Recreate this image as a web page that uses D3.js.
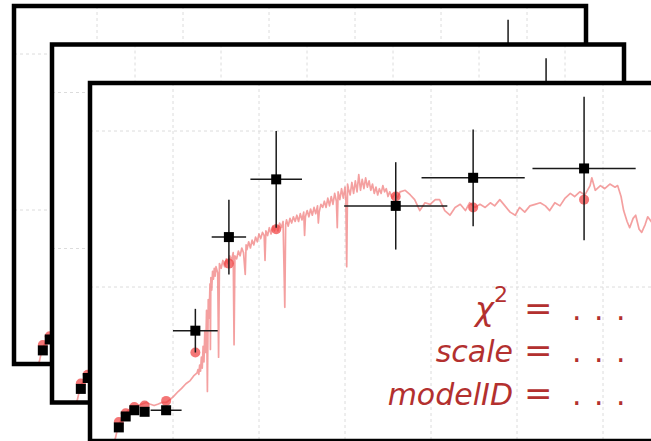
<!DOCTYPE html>
<html>
<head>
<meta charset="utf-8">
<script src="https://cdn.jsdelivr.net/npm/d3@7"></script>
<style>
  body { margin: 0; background: #fff; }
  svg { display: block; }
</style>
</head>
<body>
<div id="chart"></div>
<script>
// model spectrum (arbitrary units, grid at integers)
var specX = [0.30,0.33,0.35,0.37,0.41,0.45,0.50,0.55,0.59,0.64,0.69,0.73,0.78,0.83,0.87,0.92,0.97,1.01,1.06,1.10,
  1.15,1.20,1.24,1.28,1.29,1.30,1.31,1.32,1.33,1.34,1.35,1.36,1.37,1.38,1.39,1.40,1.41,1.42,1.43,1.435,
  1.44,1.45,1.46,1.47,1.48,1.49,1.50,1.52,1.53,1.54,1.56,1.58,1.60,1.62,1.64,1.66,1.68,1.70,1.71,1.72,
  1.74,1.76,1.78,1.80,1.82,1.84,1.85,1.86,1.88,1.90,1.92,1.94,1.96,1.98,2.00,2.02,2.04,2.06,2.07,2.08,
  2.10,2.12,2.14,2.16,2.18,2.20,2.22,2.24,2.26,2.28,2.30,2.31,2.32,2.34,2.36,2.38,2.40,2.42,2.44,2.46,
  2.48,2.50,2.52,2.53,2.54,2.56,2.58,2.60,2.62,2.64,2.66,2.68,2.69,2.70,2.72,2.74,2.76,2.78,2.80,2.82,
  2.84,2.86,2.88,2.90,2.91,2.92,2.94,2.96,2.98,3.00,3.01,3.02,3.03,3.04,3.06,3.08,3.10,3.12,3.14,3.16,
  3.18,3.20,3.22,3.24,3.26,3.28,3.30,3.32,3.34,3.36,3.38,3.40,3.42,3.44,3.46,3.48,3.50,3.52,3.55,3.58,
  3.61,3.64,3.70,3.76,3.81,3.87,3.93,3.99,4.05,4.10,4.16,4.22,4.28,4.34,4.40,4.45,4.51,4.57,4.63,4.69,
  4.74,4.80,4.86,4.92,4.98,5.03,5.09,5.15,5.21,5.27,5.33,5.38,5.44,5.50,5.56,5.62,5.67,5.73,5.79,5.85,
  5.87,5.91,5.97,6.02,6.08,6.14,6.17,6.21,6.24,6.28,6.31,6.35,6.38,6.42,6.45,6.49,6.52,6.56,6.60];
var specY = [0.00,0.03,0.08,0.12,0.16,0.19,0.22,0.23,0.24,0.25,0.26,0.25,0.24,0.25,0.26,0.26,0.28,0.30,0.33,0.35,
  0.38,0.40,0.43,0.45,0.47,0.44,0.50,0.46,0.55,0.48,0.62,0.52,0.72,0.58,0.85,0.33,0.92,0.80,1.02,0.60,
  1.06,0.98,1.10,1.05,1.12,1.07,1.13,1.09,0.55,1.15,1.12,1.17,1.13,1.18,1.15,1.20,1.17,1.22,0.63,1.20,
  1.18,1.23,1.20,1.25,1.22,1.08,1.27,1.24,1.29,1.25,1.30,1.27,1.32,1.29,1.34,1.31,1.35,1.33,1.17,1.36,
  1.33,1.38,1.34,1.39,1.36,1.40,1.36,1.41,1.38,1.42,0.87,1.40,1.43,1.39,1.44,1.41,1.45,1.42,1.46,1.42,
  1.47,1.43,1.48,1.33,1.45,1.49,1.45,1.50,1.46,1.51,1.47,1.52,1.41,1.48,1.53,1.51,1.55,1.51,1.57,1.52,
  1.58,1.53,1.60,1.55,1.38,1.61,1.56,1.63,1.57,1.64,1.56,1.13,1.66,1.63,1.59,1.67,1.60,1.68,1.61,1.72,
  1.62,1.69,1.63,1.70,1.64,1.68,1.62,1.66,1.60,1.64,1.59,1.63,1.60,1.65,1.61,1.63,1.58,1.61,1.57,1.60,
  1.57,1.61,1.62,1.59,1.56,1.49,1.54,1.53,1.56,1.56,1.49,1.46,1.51,1.53,1.49,1.54,1.51,1.53,1.51,1.54,
  1.52,1.56,1.52,1.48,1.46,1.51,1.48,1.52,1.53,1.54,1.52,1.49,1.54,1.52,1.57,1.60,1.58,1.61,1.59,1.65,
  1.70,1.62,1.65,1.63,1.66,1.64,1.65,1.58,1.49,1.42,1.38,1.44,1.46,1.37,1.35,1.40,1.45,1.42,1.39];

// observed photometry with errors, and model photometry at the same bands
var photX    = [0.37, 0.45, 0.55, 0.67, 0.92, 1.26, 1.65, 2.20, 3.59, 4.49, 5.78];
var photY    = [0.10, 0.17, 0.21, 0.20, 0.21, 0.72, 1.32, 1.69, 1.52, 1.70, 1.76];
var photXErr = [0, 0, 0, 0, 0.18, 0.26, 0.20, 0.30, 0.60, 0.60, 0.60];
var photYErr = [0, 0, 0, 0, 0, 0.14, 0.24, 0.31, 0.28, 0.31, 0.46];
var modelY   = [0.135, 0.19, 0.23, 0.24, 0.27, 0.58, 1.15, 1.37, 1.58, 1.51, 1.56];

var gridX = [1, 2, 3, 4, 5, 6];
var gridY = [1, 2];
var fitLabels = ["scale", "modelID"];

var width = 651, height = 441;
var panelW = 572, panelH = 358;
// three stacked copies of the same panel, back to front
var offsets = [[14, 6], [52, 44.5], [90, 83]];

var svg = d3.select("#chart").append("svg")
  .attr("width", width)
  .attr("height", height);

var x = d3.scaleLinear().domain([0, 6.7]).range([-3, -3 + 6.7 * 86]);
var y = d3.scaleLinear().domain([0, 2.3]).range([360, 360 - 2.3 * 156]);

svg.append("defs").append("clipPath").attr("id", "inner")
  .append("rect").attr("width", panelW).attr("height", panelH);

var line = d3.line()
  .x(function(d) { return x(d[0]); })
  .y(function(d) { return y(d[1]); });

var spec = d3.zip(specX, specY);
var phot = photX.map(function(v, i) {
  return { x: v, y: photY[i], xe: photXErr[i], ye: photYErr[i], m: modelY[i] };
});

var textColor = "#b3302f";

offsets.forEach(function(o, k) {
  var p = svg.append("g").attr("transform", "translate(" + o[0] + "," + o[1] + ")");

  p.append("rect")
    .attr("width", panelW).attr("height", panelH)
    .attr("fill", "#fff");

  var g = p.append("g").attr("clip-path", "url(#inner)");

  // grid
  g.selectAll(".gx").data(gridX).enter().append("line")
    .attr("x1", function(d) { return x(d); }).attr("x2", function(d) { return x(d); })
    .attr("y1", 0).attr("y2", panelH)
    .attr("stroke", "#dcdcdc").attr("stroke-width", 1).attr("stroke-dasharray", "3,3");
  g.selectAll(".gy").data(gridY).enter().append("line")
    .attr("y1", function(d) { return y(d); }).attr("y2", function(d) { return y(d); })
    .attr("x1", 0).attr("x2", panelW)
    .attr("stroke", "#dcdcdc").attr("stroke-width", 1).attr("stroke-dasharray", "3,3");

  // spectrum
  g.append("path").datum(spec)
    .attr("d", line)
    .attr("fill", "none")
    .attr("stroke", "#f08080")
    .attr("stroke-opacity", 0.75)
    .attr("stroke-width", 1.7)
    .attr("stroke-linejoin", "round");

  // model photometry
  g.selectAll(".model").data(phot).enter().append("circle")
    .attr("cx", function(d) { return x(d.x); })
    .attr("cy", function(d) { return y(d.m); })
    .attr("r", 5)
    .attr("fill", "#f03c3c")
    .attr("fill-opacity", 0.7);

  // error bars
  var eb = g.selectAll(".eb").data(phot.filter(function(d) { return d.xe > 0 || d.ye > 0; })).enter().append("g");
  eb.append("line")
    .attr("x1", function(d) { return x(d.x - d.xe); })
    .attr("x2", function(d) { return x(d.x + d.xe); })
    .attr("y1", function(d) { return y(d.y); })
    .attr("y2", function(d) { return y(d.y); })
    .attr("stroke", "#1a1a1a").attr("stroke-width", 1.5);
  eb.append("line")
    .attr("x1", function(d) { return x(d.x); })
    .attr("x2", function(d) { return x(d.x); })
    .attr("y1", function(d) { return y(d.y - d.ye); })
    .attr("y2", function(d) { return y(d.y + d.ye); })
    .attr("stroke", "#1a1a1a").attr("stroke-width", 1.5);

  // observed photometry
  g.selectAll(".obs").data(phot).enter().append("rect")
    .attr("x", function(d) { return x(d.x) - 5; })
    .attr("y", function(d) { return y(d.y) - 5; })
    .attr("width", 10).attr("height", 10)
    .attr("fill", "#000");

  // fit annotation, only seen on the front panel
  if (k == offsets.length - 1) {
    var t = g.append("g")
      .attr("fill", textColor)
      .style("font-family", "'DejaVu Sans', sans-serif");

    var chi = t.append("text")
      .attr("x", 418).attr("y", 237)
      .attr("text-anchor", "end")
      .style("font-size", "32px");
    chi.append("tspan").style("font-style", "italic").text("χ");
    chi.append("tspan").attr("dy", -18).style("font-size", "22px").text("2");

    t.selectAll(".lbl").data(fitLabels).enter().append("text")
      .attr("x", 423)
      .attr("y", function(d, i) { return 279 + i * 43; })
      .attr("text-anchor", "end")
      .style("font-size", "30px")
      .style("font-style", "italic")
      .text(function(d) { return d; });

    t.selectAll(".eq").data([237, 279, 322]).enter().append("text")
      .attr("x", 434)
      .attr("y", function(d) { return d; })
      .style("font-size", "34px")
      .text("=");

    t.selectAll(".dots").data([237, 279, 322]).enter().append("text")
      .attr("x", 482)
      .attr("y", function(d) { return d; })
      .style("font-size", "30px")
      .style("letter-spacing", "12.5px")
      .text("...");
  }

  // frame
  p.append("rect")
    .attr("width", panelW).attr("height", panelH)
    .attr("fill", "none")
    .attr("stroke", "#000")
    .attr("stroke-width", 4.5);
});
</script>
</body>
</html>
